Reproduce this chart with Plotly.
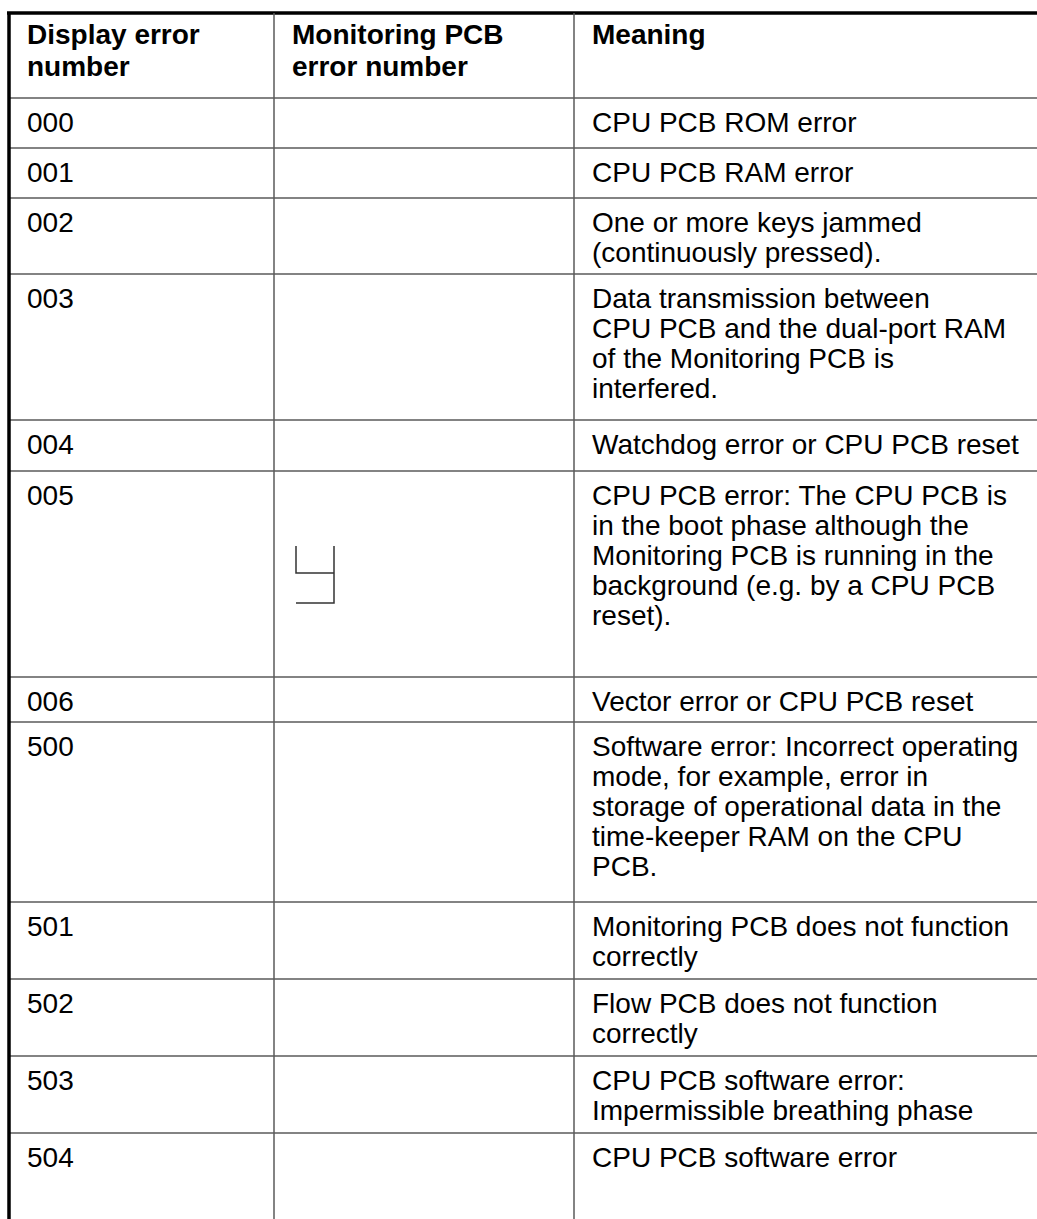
import plotly.graph_objects as go

# ---------------- data ----------------
header_col1 = ["Display error", "number"]
header_col2 = ["Monitoring PCB", "error number"]
header_col3 = ["Meaning"]

display_numbers = ["000", "001", "002", "003", "004", "005", "006",
                   "500", "501", "502", "503", "504"]

monitoring_numbers = ["", "", "", "", "", "SYMBOL", "", "", "", "", "", ""]

meanings = [
    ["CPU PCB ROM error"],
    ["CPU PCB RAM error"],
    ["One or more keys jammed", "(continuously pressed)."],
    ["Data transmission between", "CPU PCB and the dual-port RAM",
     "of the Monitoring PCB is", "interfered."],
    ["Watchdog error or CPU PCB reset"],
    ["CPU PCB error: The CPU PCB is", "in the boot phase although the",
     "Monitoring PCB is running in the", "background (e.g. by a CPU PCB",
     "reset)."],
    ["Vector error or CPU PCB reset"],
    ["Software error: Incorrect operating", "mode, for example, error in",
     "storage of operational data in the", "time-keeper RAM on the CPU",
     "PCB."],
    ["Monitoring PCB does not function", "correctly"],
    ["Flow PCB does not function", "correctly"],
    ["CPU PCB software error:", "Impermissible breathing phase"],
    ["CPU PCB software error"],
]

# ---------------- layout (sizes / styles) ----------------
W, H = 1037, 1219
TABLE_LEFT = 9
TABLE_TOP = 13
COL_WIDTHS = [265, 300, W - 574]
HEADER_HEIGHT = 85
ROW_HEIGHTS = [50, 50, 76, 146, 51, 206, 45, 180, 77, 77, 77, 120]
TEXT_PAD_X = 16
FIRST_LINE_OFFSET = 24
LINE_STEP = 30
HEADER_FIRST_OFFSET = 21
HEADER_LINE_STEP = 32
FONT = "Liberation Sans, Arial, Helvetica, sans-serif"
FONT_SIZE = 28
THIN = dict(color="#5a5a5a", width=1.5)
THICK = dict(color="#000000", width=3.5)

col_left = [TABLE_LEFT]
for w in COL_WIDTHS[:-1]:
    col_left.append(col_left[-1] + w)

row_top = [TABLE_TOP + HEADER_HEIGHT]
for h in ROW_HEIGHTS[:-1]:
    row_top.append(row_top[-1] + h)

fig = go.Figure()
shapes = []
annotations = []


def text_lines(lines, x, y0, step, bold=False):
    for i, t in enumerate(lines):
        annotations.append(dict(
            x=x, y=y0 + i * step, xref="x", yref="y",
            text=f"<b>{t}</b>" if bold else t,
            showarrow=False, xanchor="left", yanchor="middle",
            font=dict(family=FONT, size=FONT_SIZE, color="#000000"),
        ))


# header text
for lines, xl in zip([header_col1, header_col2, header_col3], col_left):
    text_lines(lines, xl + TEXT_PAD_X, TABLE_TOP + HEADER_FIRST_OFFSET,
               HEADER_LINE_STEP, bold=True)

# body text
for r, (num, mon, mean) in enumerate(zip(display_numbers, monitoring_numbers, meanings)):
    y0 = row_top[r] + FIRST_LINE_OFFSET
    text_lines([num], col_left[0] + TEXT_PAD_X, y0, LINE_STEP)
    text_lines(mean, col_left[2] + TEXT_PAD_X, y0, LINE_STEP)
    if mon == "SYMBOL":
        # broken glyph shown in the middle of the cell
        cx = col_left[1] + 22
        cy = row_top[r] + ROW_HEIGHTS[r] / 2
        g = 38
        path = (f"M {cx},{cy-28} L {cx},{cy-1} L {cx+g},{cy-1} "
                f"M {cx+g},{cy-28} L {cx+g},{cy+29} L {cx},{cy+29}")
        shapes.append(dict(type="path", path=path, xref="x", yref="y",
                           line=dict(color="#333333", width=1.5)))

# horizontal rules
shapes.append(dict(type="line", xref="x", yref="y", x0=TABLE_LEFT - 2, x1=W,
                   y0=TABLE_TOP, y1=TABLE_TOP, line=THICK))
for yt in row_top:
    shapes.append(dict(type="line", xref="x", yref="y", x0=TABLE_LEFT, x1=W,
                       y0=yt, y1=yt, line=THIN))
# vertical rules
shapes.append(dict(type="line", xref="x", yref="y", x0=TABLE_LEFT, x1=TABLE_LEFT,
                   y0=TABLE_TOP, y1=H, line=THICK))
for xl in col_left[1:]:
    shapes.append(dict(type="line", xref="x", yref="y", x0=xl, x1=xl,
                       y0=TABLE_TOP, y1=H, line=THIN))

fig.update_layout(
    width=W, height=H,
    margin=dict(l=0, r=0, t=0, b=0),
    paper_bgcolor="white", plot_bgcolor="white",
    xaxis=dict(range=[0, W], visible=False, fixedrange=True),
    yaxis=dict(range=[H, 0], visible=False, fixedrange=True),
    shapes=shapes, annotations=annotations, showlegend=False,
)

fig.write_html(
    "out.html",
    config={"displayModeBar": False},
    post_script="document.body.style.margin='0';document.body.style.overflow='hidden';",
)
